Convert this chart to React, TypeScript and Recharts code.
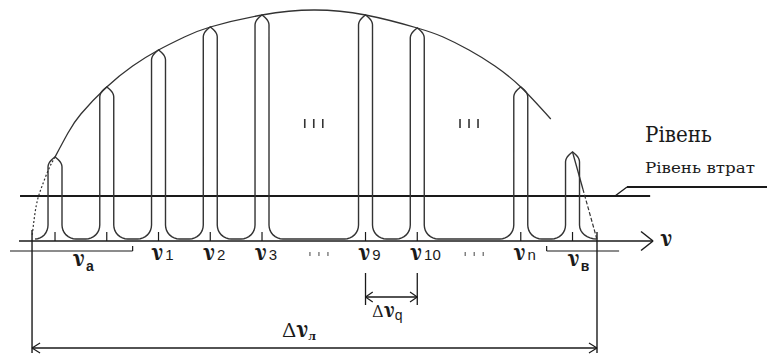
import React from 'react';
import { ComposedChart, XAxis, YAxis, Scatter, ReferenceLine } from 'recharts';

// ---- data (frequency in mode-spacing units, gain in arbitrary units above threshold axis) ----
const modeFreq = [0, 1, 2, 3, 4, 6, 7, 9, 10];
const modeGain = [84, 154, 191, 214, 226, 226, 213, 154, 89];

const envSolidFreq = [0, 0.25, 0.5, 1, 1.5, 2, 2.5, 3, 4, 5, 6, 7, 7.5, 8, 8.5, 9, 9.58];
const envSolidGain = [84, 108, 127, 154, 175, 191, 204, 214, 226, 231, 226, 213, 204, 191, 175, 154, 122];

const envLowFreq = [-0.44, -0.36, -0.25, -0.12, 0];
const envLowGain = [6, 36, 55, 72, 84];

const slopeSolidFreq = [10, 10.2];
const slopeSolidGain = [89, 52];
const slopeDashFreq = [10.2, 10.47];
const slopeDashGain = [52, 2];

const lossLevel = 45;

const nuLabelFreq = [2, 3, 4, 6, 7, 9];
const nuLabelSub = ['1', '2', '3', '9', '10', 'n'];
const bandLabelFreq = [0.35, 9.91];
const bandLabelSub = ['а', 'в'];
const gapFreq = [5, 8];

const bandA = [-0.87, 1.5];
const bandB = [9.5, 10.9];
const linewidthEdges = [-0.444, 10.473];
const spacingPair = [6, 7];

// ---- layout constants ----
const W = 767;
const H = 356;
const X0 = -1.063;
const X1 = 13.758;
const Y0 = -115;
const Y1 = 241;
const INK = '#1a1a1a';

// ---- comb of longitudinal modes built from mode data ----
function buildComb() {
  const HW = 0.135;
  const ARCH = 10;
  const BASE = 16;
  const BOT = 2;
  const pts: { x: number; y: number }[] = [];
  const n = modeFreq.length;
  for (let i = 0; i < n; i++) {
    const c = modeFreq[i];
    const top = modeGain[i];
    const rxL = i === 0 ? 0.25 : 0.27;
    const rxR = i === n - 1 ? 0.33 : 0.27;
    for (let k = 0; k <= 8; k++) {
      const th = (Math.PI / 2) * (1 - k / 8);
      pts.push({ x: c - HW - rxL * (1 - Math.cos(th)), y: BOT + (BASE - BOT) * (1 - Math.sin(th)) });
    }
    for (let k = 0; k <= 8; k++) {
      const s = k / 8;
      pts.push({ x: c - HW * (1 - s * s), y: top - ARCH * (1 - s) });
    }
    for (let k = 8; k >= 0; k--) {
      const s = k / 8;
      pts.push({ x: c + HW * (1 - s * s), y: top - ARCH * (1 - s) });
    }
    for (let k = 0; k <= 8; k++) {
      const th = (Math.PI / 2) * (k / 8);
      pts.push({ x: c + HW + rxR * (1 - Math.cos(th)), y: BOT + (BASE - BOT) * (1 - Math.sin(th)) });
    }
  }
  return pts;
}

const zip = (xs: number[], ys: number[]) => xs.map((x, i) => ({ x, y: ys[i] }));

const NoDot = () => <g />;

const SERIF = 'Noto Serif';
const CYR = 'DejaVu Serif';
const SANS = 'Liberation Sans';

function LabelShape(props: any) {
  const { cx, cy, payload } = props;
  if (cx == null || cy == null) return <g />;
  const p = payload;
  if (p.kind === 'nu') {
    return (
      <text x={cx} y={cy} dx={-7} fill={INK}>
        <tspan fontFamily={SERIF} fontWeight="bold" fontSize={22}>ν</tspan>
        <tspan fontFamily={SANS} fontSize={15} dx={2}>{p.sub}</tspan>
      </text>
    );
  }
  if (p.kind === 'band') {
    return (
      <text x={cx} y={cy} fill={INK}>
        <tspan fontFamily={SERIF} fontWeight="bold" fontSize={22}>ν</tspan>
        <tspan fontFamily={SANS} fontWeight="bold" fontSize={14} dy={5} dx={1}>{p.sub}</tspan>
      </text>
    );
  }
  if (p.kind === 'axis') {
    return (
      <text x={cx} y={cy} fill={INK} fontFamily={SERIF} fontWeight="bold" fontSize={22}>ν</text>
    );
  }
  if (p.kind === 'dq') {
    return (
      <text x={cx} y={cy} fill={INK}>
        <tspan fontFamily={SERIF} fontSize={16}>Δ</tspan>
        <tspan fontFamily={SERIF} fontWeight="bold" fontSize={20} dx={1}>ν</tspan>
        <tspan fontFamily={SANS} fontSize={14} dy={3}>q</tspan>
      </text>
    );
  }
  if (p.kind === 'dl') {
    return (
      <text x={cx} y={cy} fill={INK}>
        <tspan fontFamily={SERIF} fontSize={20}>Δ</tspan>
        <tspan fontFamily={SERIF} fontWeight="bold" fontSize={22} dx={1}>ν</tspan>
        <tspan fontFamily={CYR} fontWeight="bold" fontSize={11} dy={3}>л</tspan>
      </text>
    );
  }
  if (p.kind === 'big') {
    return (
      <text x={cx} y={cy} fill={INK} fontFamily={CYR} fontSize={23} textLength={67} lengthAdjust="spacingAndGlyphs">
        {p.text}
      </text>
    );
  }
  if (p.kind === 'small') {
    return (
      <text x={cx} y={cy} fill={INK} fontFamily={CYR} fontSize={15} textLength={110} lengthAdjust="spacingAndGlyphs">
        {p.text}
      </text>
    );
  }
  return <g />;
}

const labels: any[] = [
  ...nuLabelFreq.map((f, i) => ({ x: f, y: -19, kind: 'nu', sub: nuLabelSub[i] })),
  ...bandLabelFreq.map((f, i) => ({ x: f, y: -25, kind: 'band', sub: bandLabelSub[i] })),
  { x: 11.7, y: -5, kind: 'axis' },
  { x: 6.14, y: -76, kind: 'dq' },
  { x: 4.4, y: -96, kind: 'dl' },
  { x: 11.4, y: 99, kind: 'big', text: 'Рівень' },
  { x: 11.4, y: 68, kind: 'small', text: 'Рівень втрат' },
];

type Seg = [number, number, number, number, number?, string?];

export default function App() {
  const comb = buildComb();
  const segs: Seg[] = [];
  segs.push([-0.696, 0, 11.556, 0, 1.5]);
  segs.push([11.324, 9.5, 11.556, 0, 1.5]);
  segs.push([11.324, -9.5, 11.556, 0, 1.5]);
  segs.push([-0.676, lossLevel, 11.5, lossLevel, 2.2]);
  segs.push([10.821, lossLevel, 11.053, 54, 1.3]);
  segs.push([11.053, 54, 13.758, 54, 2]);
  modeFreq.forEach((f) => segs.push([f, 0, f, 9, 1.2]));
  gapFreq.forEach((f) => {
    [-0.174, 0, 0.174].forEach((d) => {
      segs.push([f + d, 113, f + d, 122, 1.6, '#333']);
      segs.push([f + 0.1 + d, -11, f + 0.1 + d, -15, 1.1, '#555']);
    });
  });
  segs.push([linewidthEdges[0], 11, linewidthEdges[0], -112, 1.4]);
  segs.push([linewidthEdges[1], 9, linewidthEdges[1], -112, 1.4]);
  segs.push([linewidthEdges[0], -107, linewidthEdges[1], -107, 1.4]);
  segs.push([linewidthEdges[0], -107, linewidthEdges[0] + 0.155, -102, 1.2]);
  segs.push([linewidthEdges[0], -107, linewidthEdges[0] + 0.155, -112, 1.2]);
  segs.push([linewidthEdges[1], -107, linewidthEdges[1] - 0.155, -102, 1.2]);
  segs.push([linewidthEdges[1], -107, linewidthEdges[1] - 0.155, -112, 1.2]);
  segs.push([spacingPair[0], -32, spacingPair[0], -64, 1.3]);
  segs.push([spacingPair[1], -32, spacingPair[1], -64, 1.3]);
  segs.push([spacingPair[0], -56, spacingPair[1], -56, 1.3]);
  segs.push([spacingPair[0], -56, spacingPair[0] + 0.14, -51, 1.2]);
  segs.push([spacingPair[0], -56, spacingPair[0] + 0.14, -61, 1.2]);
  segs.push([spacingPair[1], -56, spacingPair[1] - 0.14, -51, 1.2]);
  segs.push([spacingPair[1], -56, spacingPair[1] - 0.14, -61, 1.2]);
  segs.push([bandA[0], -10, bandA[1], -10, 1.2]);
  segs.push([bandA[1], -10, bandA[1], -5, 1.2]);
  segs.push([bandB[0], -10, bandB[1], -10, 1.2]);
  segs.push([bandB[0], -10, bandB[0], -5, 1.2]);

  return (
    <div style={{ position: 'absolute', left: 0, top: 0, width: W, height: H, background: '#fff' }}>
      <ComposedChart width={W} height={H} margin={{ top: 0, right: 0, bottom: 0, left: 0 }}>
        <XAxis type="number" dataKey="x" domain={[X0, X1]} hide allowDataOverflow />
        <YAxis type="number" dataKey="y" domain={[Y0, Y1]} hide allowDataOverflow />
        {segs.map((s, i) => (
          <ReferenceLine
            key={'s' + i}
            segment={[{ x: s[0], y: s[1] }, { x: s[2], y: s[3] }]}
            stroke={s[5] ?? INK}
            strokeWidth={s[4] ?? 1.2}
            ifOverflow="visible"
          />
        ))}
        <Scatter
          data={zip(envSolidFreq, envSolidGain)}
          line={{ stroke: '#333', strokeWidth: 1.3 }}
          lineType="joint"
          lineJointType="natural"
          shape={NoDot}
          isAnimationActive={false}
        />
        <Scatter
          data={zip(envLowFreq, envLowGain)}
          line={{ stroke: '#333', strokeWidth: 1.2, strokeDasharray: '2 2' }}
          lineType="joint"
          lineJointType="natural"
          shape={NoDot}
          isAnimationActive={false}
        />
        <Scatter
          data={zip(slopeSolidFreq, slopeSolidGain)}
          line={{ stroke: '#333', strokeWidth: 1.3 }}
          lineType="joint"
          shape={NoDot}
          isAnimationActive={false}
        />
        <Scatter
          data={zip(slopeDashFreq, slopeDashGain)}
          line={{ stroke: '#333', strokeWidth: 1.2, strokeDasharray: '4 2' }}
          lineType="joint"
          shape={NoDot}
          isAnimationActive={false}
        />
        <Scatter
          data={comb}
          line={{ stroke: '#333', strokeWidth: 1.4 }}
          lineType="joint"
          lineJointType="linear"
          shape={NoDot}
          isAnimationActive={false}
        />
        <Scatter data={labels} shape={LabelShape} isAnimationActive={false} />
      </ComposedChart>
    </div>
  );
}
